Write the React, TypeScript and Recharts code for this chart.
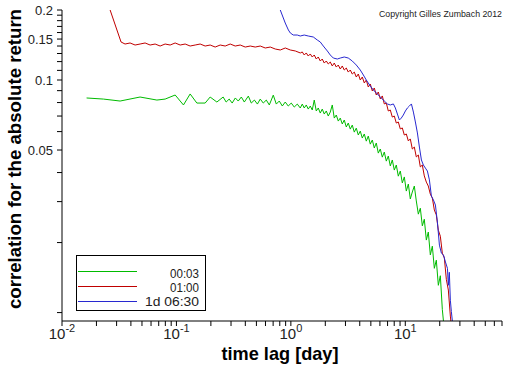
import React from 'react';
import { LineChart, Line, XAxis, YAxis, Legend } from 'recharts';

// time lag [day] / correlation pairs
const green0003: [number, number][] = [
  [0.0164, 0.0837], [0.023, 0.0828], [0.0322, 0.0812], [0.0481, 0.0845], [0.0675, 0.082], [0.0797, 0.0828],
  [0.0975, 0.0862], [0.1152, 0.0781], [0.1318, 0.0871], [0.1508, 0.0796], [0.1782, 0.0796], [0.1971, 0.0845],
  [0.2256, 0.0804], [0.256, 0.0845], [0.272, 0.0804], [0.289, 0.0828], [0.307, 0.0796], [0.327, 0.0837],
  [0.347, 0.0812], [0.369, 0.0845], [0.392, 0.0804], [0.425, 0.0853], [0.451, 0.0796], [0.48, 0.082],
  [0.51, 0.0788], [0.54, 0.0828], [0.574, 0.0796], [0.61, 0.082], [0.648, 0.0781], [0.702, 0.0861],
  [0.746, 0.0788], [0.792, 0.0812], [0.842, 0.0773], [0.893, 0.0804], [0.949, 0.0773], [1.008, 0.0796],
  [1.071, 0.0765], [1.138, 0.0788], [1.208, 0.0758], [1.258, 0.0788], [1.309, 0.0758], [1.363, 0.0781],
  [1.419, 0.075], [1.478, 0.0773], [1.538, 0.0743], [1.601, 0.082], [1.667, 0.0736], [1.736, 0.0758],
  [1.807, 0.0721], [1.881, 0.075], [1.958, 0.0714], [2.039, 0.0736], [2.123, 0.07], [2.21, 0.0728],
  [2.301, 0.0781], [2.395, 0.0686], [2.494, 0.0707], [2.596, 0.0666], [2.703, 0.0686], [2.814, 0.0647],
  [2.929, 0.0673], [3.05, 0.0628], [3.175, 0.0653], [3.306, 0.0615], [3.441, 0.064], [3.583, 0.0597],
  [3.73, 0.0621], [3.883, 0.058], [4.043, 0.0603], [4.209, 0.0563], [4.382, 0.0586], [4.562, 0.0546],
  [4.749, 0.0574], [4.944, 0.053], [5.148, 0.0552], [5.359, 0.051], [5.579, 0.0536], [5.809, 0.0485],
  [6.047, 0.0505], [6.296, 0.0466], [6.554, 0.049], [6.824, 0.0448], [7.104, 0.0471], [7.396, 0.0427],
  [7.7, 0.0453], [8.017, 0.041], [8.346, 0.0431], [8.689, 0.0386], [9.046, 0.0406], [9.418, 0.0361],
  [9.805, 0.0383], [10.21, 0.0333], [10.63, 0.0357], [11.06, 0.0308], [11.52, 0.033], [11.99, 0.035],
  [12.48, 0.0302], [13.0, 0.0265], [13.53, 0.0281], [14.09, 0.0236], [14.66, 0.0252], [15.27, 0.0205],
  [15.89, 0.0222], [16.55, 0.0177], [17.23, 0.0193], [17.94, 0.0155], [18.67, 0.0168], [19.44, 0.0131],
  [20.24, 0.0144], [21.07, 0.0103], [21.94, 0.0084],
];

const red0100: [number, number][] = [
  [0.0258, 0.206], [0.0328, 0.1457], [0.03557, 0.1428], [0.03934, 0.1443], [0.04352, 0.1414], [0.04813, 0.1428],
  [0.05323, 0.1443], [0.05888, 0.1414], [0.06512, 0.1428], [0.07203, 0.14], [0.07966, 0.1428], [0.08811, 0.1414],
  [0.09745, 0.1443], [0.1078, 0.1414], [0.1192, 0.1428], [0.1318, 0.14], [0.1458, 0.1414], [0.1612, 0.1428],
  [0.1783, 0.14], [0.1972, 0.1414], [0.2181, 0.1386], [0.2413, 0.1414], [0.2668, 0.14], [0.2951, 0.1428],
  [0.3264, 0.14], [0.361, 0.1414], [0.3993, 0.1386], [0.4416, 0.14], [0.4884, 0.1386], [0.5402, 0.14],
  [0.5975, 0.1373], [0.6608, 0.1386], [0.7309, 0.1359], [0.8084, 0.1346], [0.8941, 0.1373], [0.9889, 0.1346],
  [1.0938, 0.1333], [1.2097, 0.1307], [1.258, 0.132], [1.309, 0.1281], [1.363, 0.1307], [1.419, 0.1268],
  [1.478, 0.1294], [1.538, 0.1256], [1.601, 0.1281], [1.667, 0.1231], [1.736, 0.1256], [1.807, 0.1207],
  [1.881, 0.1231], [1.958, 0.1183], [2.039, 0.1207], [2.123, 0.1172], [2.21, 0.1195], [2.301, 0.1149],
  [2.395, 0.1183], [2.494, 0.1137], [2.596, 0.116], [2.703, 0.1115], [2.814, 0.1149], [2.929, 0.1104],
  [3.05, 0.1126], [3.175, 0.1082], [3.306, 0.1104], [3.441, 0.1061], [3.583, 0.1082], [3.73, 0.103],
  [3.883, 0.1061], [4.043, 0.1], [4.209, 0.103], [4.382, 0.0971], [4.562, 0.1], [4.749, 0.0933],
  [4.944, 0.0961], [5.148, 0.0897], [5.359, 0.0924], [5.579, 0.0862], [5.809, 0.0888], [6.047, 0.0829],
  [6.296, 0.0854], [6.554, 0.0789], [6.824, 0.0796], [7.104, 0.0736], [7.396, 0.0743], [7.7, 0.0693],
  [8.017, 0.07], [8.346, 0.0653], [8.689, 0.066], [9.046, 0.0616], [9.418, 0.0622], [9.805, 0.058],
  [10.21, 0.0586], [10.63, 0.0547], [11.06, 0.0558], [11.52, 0.0505], [11.99, 0.0515], [12.48, 0.0467],
  [13.0, 0.0476], [13.53, 0.0423], [14.09, 0.0431], [14.66, 0.0387], [15.27, 0.0364], [15.89, 0.035],
  [16.55, 0.0323], [17.23, 0.0311], [17.94, 0.0276], [18.67, 0.0263], [19.44, 0.0226], [20.24, 0.0213],
  [21.07, 0.018], [21.94, 0.0172], [22.84, 0.0139], [23.78, 0.0125], [24.76, 0.00966], [25.78, 0.00801],
];

const blue1d0630: [number, number][] = [
  [0.776, 0.2165], [0.808, 0.2], [0.893, 0.1758], [0.951, 0.1641], [0.989, 0.1593], [1.049, 0.1561],
  [1.138, 0.1561], [1.208, 0.1546], [1.309, 0.1561], [1.419, 0.1546], [1.571, 0.1531], [1.702, 0.1486],
  [1.807, 0.1457], [1.921, 0.14], [2.083, 0.1333], [2.21, 0.1281], [2.35, 0.1243], [2.547, 0.1231],
  [2.703, 0.1243], [2.929, 0.1256], [3.175, 0.1243], [3.441, 0.1207], [3.73, 0.116], [4.043, 0.1104],
  [4.3, 0.1051], [4.562, 0.1], [4.944, 0.0942], [5.26, 0.0906], [5.7, 0.0871], [6.047, 0.0845],
  [6.554, 0.0812], [6.97, 0.0789], [7.396, 0.0781], [7.87, 0.0789], [8.19, 0.0758], [8.53, 0.0714],
  [8.88, 0.0673], [9.23, 0.0686], [9.61, 0.0707], [10.02, 0.0736], [10.43, 0.0758], [10.86, 0.0773],
  [11.31, 0.0789], [11.77, 0.0728], [12.25, 0.066], [12.76, 0.0592], [13.28, 0.0515], [13.83, 0.0453],
  [14.39, 0.0431], [14.99, 0.0418], [15.6, 0.0406], [16.24, 0.0372], [16.91, 0.0317], [17.61, 0.0305],
  [18.33, 0.029], [19.08, 0.0245], [19.87, 0.0195], [20.69, 0.018], [21.54, 0.0177], [22.43, 0.0165],
  [23.35, 0.0155], [23.78, 0.0131], [24.26, 0.0149], [24.76, 0.0113], [25.26, 0.0101], [26.3, 0.00841],
];

const X_TICKS = [
  0.01, 0.02, 0.03, 0.04, 0.05, 0.06, 0.07, 0.08, 0.09,
  0.1, 0.2, 0.3, 0.4, 0.5, 0.6, 0.7, 0.8, 0.9,
  1, 2, 3, 4, 5, 6, 7, 8, 9,
  10, 20, 30, 40, 50, 60, 70,
];
const X_EXPONENTS: Record<number, string> = { 0.01: '-2', 0.1: '-1', 1: '0', 10: '1' };

const Y_TICKS = [
  0.01, 0.02, 0.03, 0.04, 0.05, 0.06, 0.07, 0.08, 0.09, 0.1,
  0.11, 0.12, 0.13, 0.14, 0.15, 0.16, 0.17, 0.18, 0.19, 0.2,
];
const Y_LABELED = [0.05, 0.1, 0.15, 0.2];

const FONT = '"Liberation Sans", Arial, sans-serif';

const toPoints = (pairs: [number, number][]) => pairs.map(([x, y]) => ({ x, y }));

const XTick = (props: any) => {
  const { x, y, payload } = props;
  const exp = X_EXPONENTS[payload.value];
  if (exp === undefined) return <g />;
  return (
    <text x={x} y={y + 11} textAnchor="middle" fontSize={15} fill="#222" fontFamily={FONT}>
      10<tspan dy={-7} fontSize={11}>{exp}</tspan>
    </text>
  );
};

const LegendBox = (props: any) => {
  const items = props.payload || [];
  const widths = [29, 29, 54];
  return (
    <svg width={130} height={56} style={{ display: 'block' }}>
      <rect x={0.5} y={0.5} width={129} height={55} fill="#fff" stroke="#000" />
      {items.map((it: any, i: number) => (
        <g key={it.value}>
          <line x1={2} x2={61} y1={16.5 + i * 15} y2={16.5 + i * 15} stroke={it.color} strokeWidth={1} />
          <text x={123} y={22.5 + i * 14.4} textAnchor="end" fontSize={12.5} fill="#222" fontFamily={FONT}
            textLength={widths[i]} lengthAdjust="spacingAndGlyphs">
            {it.value}
          </text>
        </g>
      ))}
    </svg>
  );
};

export default function App() {
  return (
    <div style={{ position: 'absolute', left: 0, top: 0, width: 512, height: 366, background: '#fff' }}>
      <LineChart width={512} height={366} margin={{ top: 10, right: 10, bottom: 0, left: 0 }}>
        <XAxis
          dataKey="x"
          type="number"
          scale="log"
          domain={[0.01, 70]}
          allowDataOverflow
          ticks={X_TICKS}
          interval={0}
          height={45}
          tickSize={5}
          stroke="#000"
          tick={<XTick />}
          label={() => (
            <text x={280} y={360} textAnchor="middle" fontSize={19} fontWeight="bold" fill="#000"
              fontFamily={FONT} textLength={117} lengthAdjust="spacingAndGlyphs">
              time lag  [day]
            </text>
          )}
        />
        <YAxis
          type="number"
          scale="log"
          domain={[0.0092, 0.2]}
          allowDataOverflow
          ticks={Y_TICKS}
          interval={0}
          width={62}
          tickSize={5}
          tickMargin={4}
          stroke="#000"
          tick={{ fontSize: 13, fill: '#222', fontFamily: FONT }}
          tickFormatter={(v: number) => (Y_LABELED.includes(v) ? String(v) : '')}
          label={() => (
            <g>
              <text transform="rotate(-90)" x={-159} y={21} textAnchor="middle" fontSize={19} fontWeight="bold"
                fill="#000" fontFamily={FONT} textLength={300} lengthAdjust="spacingAndGlyphs">
                correlation for the absolute return
              </text>
              <text x={379} y={16.5} fontSize={9.5} fill="#222" fontFamily={FONT} textLength={123}
                lengthAdjust="spacingAndGlyphs">
                Copyright Gilles Zumbach 2012
              </text>
            </g>
          )}
        />
        <Legend
          layout="horizontal"
          verticalAlign="middle"
          align="center"
          wrapperStyle={{ left: 76, top: 255, width: 130, height: 56 }}
          content={<LegendBox />}
        />
        <Line data={toPoints(green0003)} dataKey="y" name="00:03" stroke="#00bb00" strokeWidth={1}
          dot={false} activeDot={false} isAnimationActive={false} />
        <Line data={toPoints(red0100)} dataKey="y" name="01:00" stroke="#c00000" strokeWidth={1}
          dot={false} activeDot={false} isAnimationActive={false} />
        <Line data={toPoints(blue1d0630)} dataKey="y" name="1d 06:30" stroke="#2828d0" strokeWidth={1}
          dot={false} activeDot={false} isAnimationActive={false} />
      </LineChart>
    </div>
  );
}
